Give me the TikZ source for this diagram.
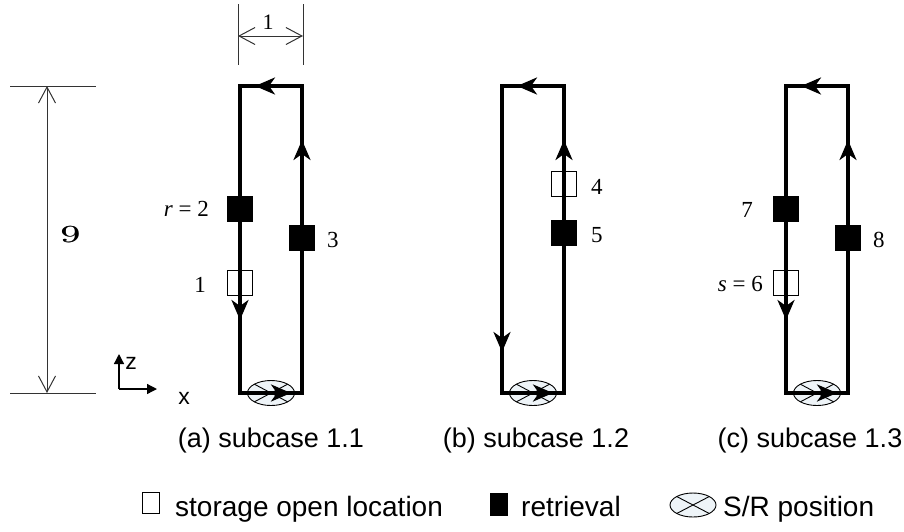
\documentclass[tikz,border=0pt]{standalone}
\usepackage{fontspec}
\usepackage{graphicx}
\setmainfont{Liberation Serif}
\setsansfont{Liberation Sans}
\usetikzlibrary{arrows.meta}
\definecolor{srfill}{HTML}{EEF4F8}
\definecolor{dimgray}{HTML}{333333}
\newcommand\capfont{\sffamily\fontsize{27}{32}\selectfont}
\newcommand\legfont{\sffamily\fontsize{28}{32}\selectfont}
\newcommand\numfont{\fontsize{23}{27}\selectfont}
\newcommand\bignine{\scalebox{1.6}[1]{\fontencoding{OML}\fontfamily{lmm}\fontseries{b}\fontshape{it}\fontsize{40}{40}\selectfont 9}}
\tikzset{
  loopline/.style={line width=3.2pt, line join=miter},
  flowtip/.style={line width=3.2pt, -{Stealth[length=20pt,width=17pt,inset=6pt]}},
  fullbox/.style={draw=black, fill=black, line width=0.8pt, minimum size=25pt, inner sep=0pt},
  openbox/.style={draw=black, line width=0.8pt, minimum size=25pt, inner sep=0pt},
  numlabel/.style={font=\numfont, inner sep=0pt},
  caption/.style={font=\capfont, inner sep=0pt},
  legtext/.style={font=\legfont, inner sep=0pt},
  dimline/.style={draw=dimgray, line width=1pt},
  dimtips/.style={dimline, {Straight Barb[length=16pt,width=17pt]}-{Straight Barb[length=16pt,width=17pt]}},
  srmark/.pic={
    \draw[line width=0.9pt, fill=srfill] (0,0) ellipse [x radius=23.5pt, y radius=12.5pt];
    \draw[line width=0.9pt] (-16.6,-8.8) -- (16.6,8.8) (-16.6,8.8) -- (16.6,-8.8);
  },
  legmark/.pic={
    \draw[line width=0.9pt, fill=srfill] (0,0) ellipse [x radius=23pt, y radius=12pt];
    \draw[line width=0.9pt] (-16.3,-8.5) -- (16.3,8.5) (-16.3,8.5) -- (16.3,-8.5);
  }
}
\begin{document}
\begin{tikzpicture}[x=1pt, y=-1pt]
\useasboundingbox (0,0) rectangle (904,531);

% ---- dimension 9 (aisle height) ----
\coordinate (hTopL) at (10,86);  \coordinate (hTopR) at (96,86);
\coordinate (hBotL) at (10,393); \coordinate (hBotR) at (96,393);
\coordinate (hTop) at (47,86);   \coordinate (hBot) at (47,393);
\draw[dimline] (hTopL) -- (hTopR);
\draw[dimline] (hBotL) -- (hBotR);
\draw[dimtips] (hTop) -- (hBot);
% the numeral is set twice, a hair apart, for a heavier stroke
\node[inner sep=0pt] (nine) at (70,235) {\bignine};
\node[inner sep=0pt] (nineb) at (70.8,235) {\bignine};

% ---- dimension 1 (aisle width) ----
\coordinate (wL1) at (238,4);  \coordinate (wL2) at (238,65);
\coordinate (wR1) at (303,4);  \coordinate (wR2) at (303,65);
\coordinate (wL) at (238,36);  \coordinate (wR) at (303,36);
\draw[dimline] (wL1) -- (wL2);
\draw[dimline] (wR1) -- (wR2);
\draw[dimtips] (wL) -- (wR);
\node[font=\fontsize{22}{26}\selectfont, inner sep=0pt] (one) at (268,22) {1};

% ---- axes ----
\coordinate (ax0) at (119,389);
\coordinate (axz) at (119,354);
\coordinate (axx) at (157,389);
\draw[line width=1.3pt, -{Triangle[length=10pt,width=10pt]}] (ax0) -- (axz);
\draw[line width=1.3pt, -{Triangle[length=10pt,width=10pt]}] (ax0) -- (axx);
\node[font=\sffamily\fontsize{23}{26}\selectfont, inner sep=0pt] (zlab) at (131,363) {z};
\node[font=\sffamily\fontsize{23}{26}\selectfont, inner sep=0pt] (xlab) at (184,398) {x};

% ---- the three travel loops ----
% left x, right x, tip of the down arrow, name prefix
\foreach \L/\R/\D/\p in {240/302/320/a, 502/564/352/b, 786/848/320/c}{
  \pgfmathsetmacro\M{(\L+\R)/2}
  \coordinate (\p BL) at (\L,393);
  \coordinate (\p TL) at (\L,86);
  \coordinate (\p TR) at (\R,86);
  \coordinate (\p BR) at (\R,393);
  \pic at (\M,393) {srmark};
  \draw[loopline] (\p BL) -- (\p TL) -- (\p TR) -- (\p BR) -- cycle;
  \draw[flowtip] (\M+16,86) -- (\M-16,86);
  \draw[flowtip] (\R,172) -- (\R,140);
  \draw[flowtip] (\L,\D-32) -- (\L,\D);
  \draw[flowtip] (\M-14,393) -- (\M+20,393);
}

% ---- subcase 1.1 ----
\node[fullbox] (a2) at (240,209) {};
\node[openbox] (a1) at (240,283) {};
\node[fullbox] (a3) at (302,238) {};
\node[numlabel, anchor=east] (la2) at (209,209) {\textit{r} = 2};
\node[numlabel, anchor=east] (la1) at (206,285) {1};
\node[numlabel, anchor=west] (la3) at (327,240) {3};

% ---- subcase 1.2 ----
\node[openbox] (b4) at (564,184) {};
\node[fullbox] (b5) at (564,233) {};
\node[numlabel, anchor=west] (lb4) at (591,187) {4};
\node[numlabel, anchor=west] (lb5) at (591,235) {5};

% ---- subcase 1.3 ----
\node[fullbox] (c7) at (786,209) {};
\node[openbox] (c6) at (786,283) {};
\node[fullbox] (c8) at (848,238) {};
\node[numlabel, anchor=east] (lc7) at (753,210) {7};
\node[numlabel, anchor=east] (lc6) at (763,284) {\textit{s} = 6};
\node[numlabel, anchor=west] (lc8) at (873,240) {8};

% ---- captions ----
\node[caption] (capa) at (271,441) {(a) subcase 1.1};
\node[caption] (capb) at (536,441) {(b) subcase 1.2};
\node[caption] (capc) at (810,441) {(c) subcase 1.3};

% ---- legend ----
\node[draw=black, line width=0.9pt, minimum width=17pt, minimum height=21pt, inner sep=0pt] (legopen) at (151,503) {};
\node[legtext, anchor=base west] (legopentext) at (175,516) {storage open location};
\node[draw=black, fill=black, minimum width=17pt, minimum height=22pt, inner sep=0pt] (legfull) at (499,504) {};
\node[legtext, anchor=base west] (legfulltext) at (521,516) {retrieval};
\pic at (693,505) {legmark};
\node[legtext, anchor=base west] (legsrtext) at (723,516) {S/R position};
\end{tikzpicture}
\end{document}
